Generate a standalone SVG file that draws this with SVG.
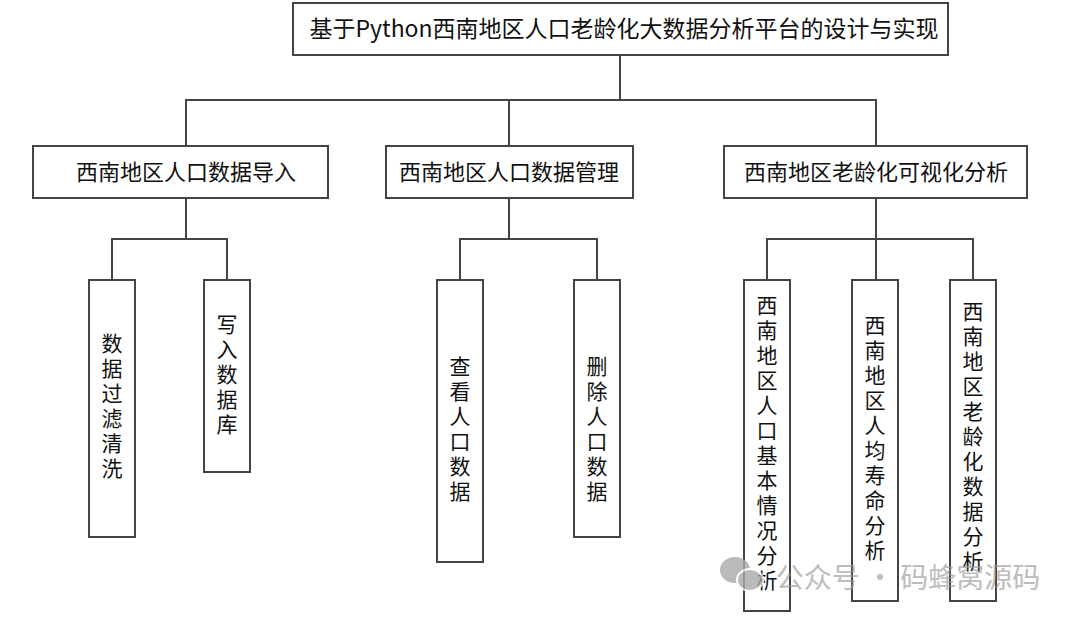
<svg xmlns="http://www.w3.org/2000/svg" width="1080" height="622" viewBox="0 0 1080 622">
<style>
rect{fill:#fff;stroke:#444;stroke-width:2}
.c line,.c polyline{stroke:#444;stroke-width:2;fill:none}
text{font-family:"Noto Sans CJK SC","Liberation Sans",sans-serif;font-size:22px;fill:#111;text-anchor:middle}
.v{writing-mode:vertical-rl;text-orientation:upright;font-size:21px;letter-spacing:4px}
.t{font-size:23px}
.wm{fill:#999;font-size:28px;opacity:.8}
</style>
<rect width="1080" height="622" style="stroke:none"/>
<g class="c">
<line x1="620" y1="55" x2="620" y2="100"/>
<polyline points="186,146 186,100 876,100 876,146"/>
<line x1="509" y1="100" x2="509" y2="146"/>
<polyline points="186,198 186,239"/><polyline points="112,280 112,239 227,239 227,280"/>
<polyline points="509,198 509,239"/><polyline points="460,280 460,239 597,239 597,280"/>
<polyline points="876,198 876,280"/><polyline points="767,280 767,239 973,239 973,280"/>
</g>
<g id="root"><rect x="293" y="3" width="655" height="52"/><text class="t" x="624" y="37">基于Python西南地区人口老龄化大数据分析平台的设计与实现</text></g>
<g id="n1"><rect x="33" y="146" width="295" height="52"/><text x="186" y="180">西南地区人口数据导入</text></g>
<g id="n2"><rect x="386" y="146" width="247" height="52"/><text x="509" y="180">西南地区人口数据管理</text></g>
<g id="n3"><rect x="724" y="146" width="303" height="52"/><text x="876" y="180">西南地区老龄化可视化分析</text></g>
<g id="l1"><rect x="89" y="280" width="46" height="257"/><text class="v" x="112" y="408">数据过滤清洗</text></g>
<g id="l2"><rect x="204" y="280" width="46" height="192"/><text class="v" x="227" y="376">写入数据库</text></g>
<g id="l3"><rect x="437" y="280" width="46" height="282"/><text class="v" x="460" y="431">查看人口数据</text></g>
<g id="l4"><rect x="574" y="280" width="46" height="257"/><text class="v" x="597" y="431">删除人口数据</text></g>
<g id="l5"><rect x="744" y="280" width="46" height="331"/><text class="v" x="767" y="445">西南地区人口基本情况分析</text></g>
<g id="l6"><rect x="852" y="280" width="46" height="321"/><text class="v" x="875" y="440">西南地区人均寿命分析</text></g>
<g id="l7"><rect x="950" y="280" width="46" height="321"/><text class="v" x="973" y="438">西南地区老龄化数据分析</text></g>
<g id="watermark" opacity="0.8">
<ellipse cx="735" cy="570" rx="15" ry="13" fill="#aaa"/><ellipse cx="750" cy="580" rx="13" ry="11" fill="#aaa" stroke="#fff" stroke-width="2"/>
<text class="wm" x="908" y="588">公众号 · 码蜂窝源码</text></g>
</svg>
